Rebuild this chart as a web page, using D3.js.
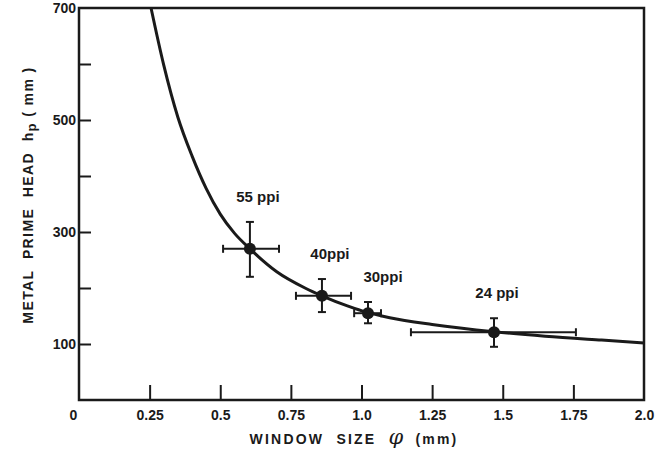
<!DOCTYPE html>
<html>
<head>
<meta charset="utf-8">
<script src="https://cdn.jsdelivr.net/npm/d3@7"></script>
<style>
  html, body { margin: 0; padding: 0; background: #fff; }
  svg { display: block; }
  text { font-family: "Liberation Sans", Arial, sans-serif; font-weight: bold; fill: #1a1a1a; }
  text.title { white-space: pre; }
</style>
</head>
<body>
<svg id="chart" width="656" height="453"></svg>
<script>
// ---- data ----
const xTickValues = [0, 0.25, 0.5, 0.75, 1.0, 1.25, 1.5, 1.75, 2.0];
const xTickLabels = ["0", "0.25", "0.5", "0.75", "1.0", "1.25", "1.5", "1.75", "2.0"];
const yTickValues = [100, 200, 300, 400, 500, 600, 700];
const yTickLabels = ["100", "", "300", "", "500", "", "700"];

// measured points (window size φ in mm, prime head hp in mm)
const pointLabels = ["55 ppi", "40ppi", "30ppi", "24 ppi"];
const pointX = [0.605, 0.860, 1.023, 1.469];
const pointY = [270, 186, 155, 121];
const xErrLow = [0.510, 0.768, 0.974, 1.175];
const xErrHigh = [0.708, 0.963, 1.069, 1.759];
const yErrLow = [220, 157, 137, 95];
const yErrHigh = [318, 216, 175, 146];

// fitted curve
const curveX = [0.255, 0.30, 0.35, 0.40, 0.45, 0.50, 0.55, 0.605, 0.70, 0.80, 0.86, 0.95, 1.023, 1.10, 1.25, 1.469, 1.65, 1.85, 2.0];
const curveY = [700, 598, 505, 436, 378, 332, 298, 270, 229, 200, 186, 168, 156, 147, 135, 122, 114, 107, 102];

// ---- drawing ----
(function () {
const svg = d3.select("#chart");
const pLeft = 79, pRight = 644, pTop = 8, pBottom = 400;
const x = d3.scaleLinear().domain([0, 2]).range([pLeft, pRight]);
const y = d3.scaleLinear().domain([0, 700]).range([pBottom, pTop]);
const ink = "#1a1a1a";

// curve
const curveData = curveX.map((v, i) => [v, curveY[i]]);
svg.append("path")
  .datum(curveData)
  .attr("fill", "none")
  .attr("stroke", ink)
  .attr("stroke-width", 3)
  .attr("d", d3.line().x(d => x(d[0])).y(d => y(d[1])).curve(d3.curveMonotoneX));

// error bars and points
const pts = pointX.map((v, i) => ({
  x: v, y: pointY[i], xl: xErrLow[i], xh: xErrHigh[i], yl: yErrLow[i], yh: yErrHigh[i], label: pointLabels[i]
}));
const g = svg.append("g").attr("stroke", ink).attr("stroke-width", 2);
const cap = 4;
pts.forEach(p => {
  g.append("line").attr("x1", x(p.xl)).attr("x2", x(p.xh)).attr("y1", y(p.y)).attr("y2", y(p.y));
  g.append("line").attr("x1", x(p.xl)).attr("x2", x(p.xl)).attr("y1", y(p.y) - cap).attr("y2", y(p.y) + cap);
  g.append("line").attr("x1", x(p.xh)).attr("x2", x(p.xh)).attr("y1", y(p.y) - cap).attr("y2", y(p.y) + cap);
  g.append("line").attr("x1", x(p.x)).attr("x2", x(p.x)).attr("y1", y(p.yl)).attr("y2", y(p.yh));
  g.append("line").attr("x1", x(p.x) - cap).attr("x2", x(p.x) + cap).attr("y1", y(p.yl)).attr("y2", y(p.yl));
  g.append("line").attr("x1", x(p.x) - cap).attr("x2", x(p.x) + cap).attr("y1", y(p.yh)).attr("y2", y(p.yh));
});
svg.selectAll("circle.pt").data(pts).enter().append("circle")
  .attr("class", "pt")
  .attr("cx", d => x(d.x)).attr("cy", d => y(d.y)).attr("r", 6).attr("fill", ink);

// point labels
const labelDX = [8, 8, 15, 3];
const labelDY = [-47, -37, -31, -34];
svg.selectAll("text.plab").data(pts).enter().append("text")
  .attr("class", "plab")
  .attr("x", (d, i) => x(d.x) + labelDX[i])
  .attr("y", (d, i) => y(d.y) + labelDY[i])
  .attr("text-anchor", "middle")
  .attr("font-size", 15)
  .text(d => d.label);

// frame
svg.append("rect")
  .attr("x", pLeft).attr("y", pTop).attr("width", pRight - pLeft).attr("height", pBottom - pTop)
  .attr("fill", "none").attr("stroke", ink).attr("stroke-width", 2.5);

// x axis (ticks inward)
const xAxis = d3.axisBottom(x).tickValues(xTickValues)
  .tickFormat((d, i) => xTickLabels[i]).tickSizeInner(-15).tickSizeOuter(0).tickPadding(10);
const xg = svg.append("g").attr("transform", `translate(0,${pBottom})`).call(xAxis);
xg.select(".domain").remove();
xg.selectAll(".tick line").attr("stroke", ink).attr("stroke-width", 2);
xg.selectAll(".tick text").attr("font-size", 14).attr("font-family", "Liberation Sans, Arial, sans-serif")
  .attr("font-weight", "bold").attr("fill", ink)
  .attr("dx", (d, i) => (i === 0 ? -6 : 0));
xg.selectAll(".tick").filter(d => d === 0 || d === 2).select("line").remove();

// y axis (ticks inward)
const yAxis = d3.axisLeft(y).tickValues(yTickValues)
  .tickFormat((d, i) => yTickLabels[i]).tickSizeInner(-12).tickSizeOuter(0).tickPadding(3);
const yg = svg.append("g").attr("transform", `translate(${pLeft},0)`).call(yAxis);
yg.select(".domain").remove();
yg.selectAll(".tick line").attr("stroke", ink).attr("stroke-width", 2);
yg.selectAll(".tick").filter(d => d === 700).select("line").remove();
yg.selectAll(".tick text").attr("font-size", 14).attr("font-family", "Liberation Sans, Arial, sans-serif")
  .attr("font-weight", "bold").attr("fill", ink);

// x axis title
const xt = svg.append("text").attr("class", "title").attr("x", 354).attr("y", 444).attr("text-anchor", "middle")
  .attr("font-size", 14).attr("letter-spacing", 2.2);
xt.append("tspan").text("WINDOW  SIZE  ");
xt.append("tspan").attr("font-family", "DejaVu Serif, serif").attr("font-style", "italic")
  .attr("font-weight", "normal").attr("font-size", 21).attr("letter-spacing", 0).text("φ");
xt.append("tspan").text("  (mm)");

// y axis title
const yt = svg.append("text").attr("class", "title").attr("transform", "translate(33,195) rotate(-90)")
  .attr("text-anchor", "middle").attr("font-size", 14).attr("letter-spacing", 1.4);
yt.append("tspan").text("METAL  PRIME  HEAD  h");
yt.append("tspan").attr("baseline-shift", "-3").attr("font-size", 13).text("p");
yt.append("tspan").text(" ( mm )");
})();
</script>
</body>
</html>
